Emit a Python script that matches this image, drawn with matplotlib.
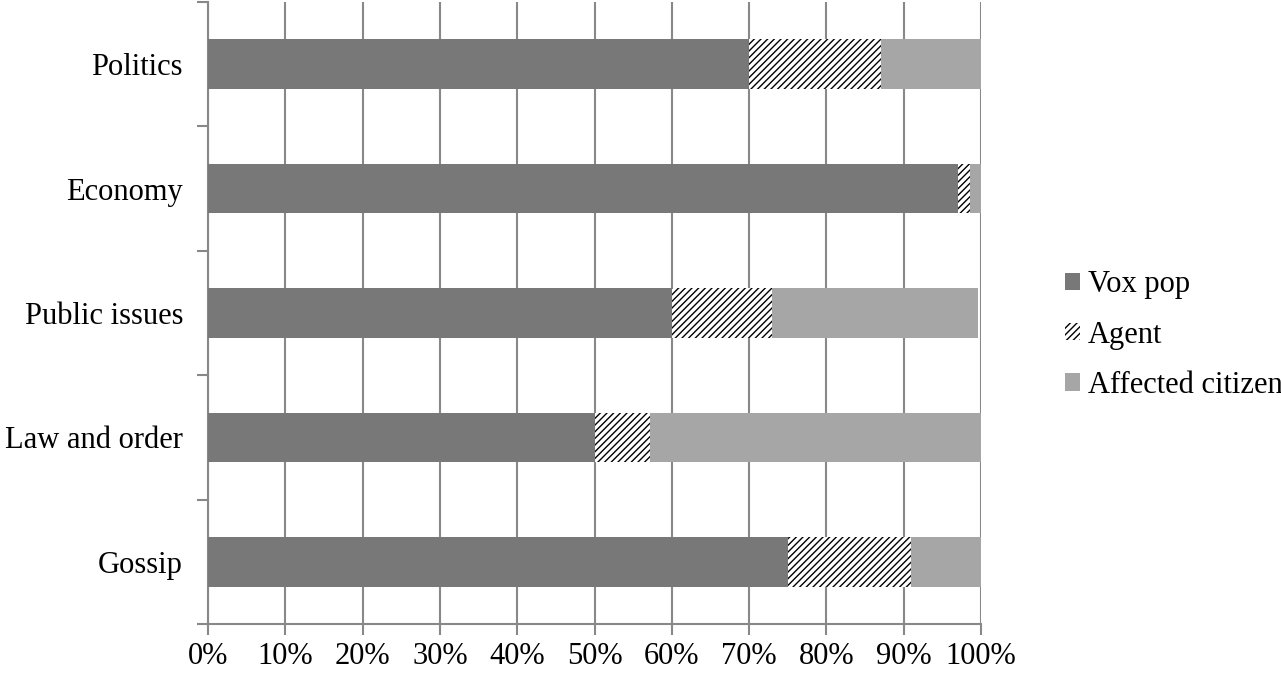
import matplotlib.pyplot as plt
import numpy as np

categories = ['Politics', 'Economy', 'Public issues', 'Law and order', 'Gossip']
vox_pop = [70, 97, 60, 50, 75]
agent = [17, 1.6, 13, 7.2, 16]
affected = [13, 1.4, 26.6, 42.8, 9]
series_names = ['Vox pop', 'Agent', 'Affected citizen']
x_ticks = np.arange(0, 101, 10)

plt.rcParams['font.family'] = ['Liberation Serif', 'DejaVu Serif']
plt.rcParams['hatch.linewidth'] = 1.0
plt.rcParams['hatch.color'] = 'black'

fig = plt.figure(figsize=(12.81, 6.73), dpi=100)
ax = fig.add_axes([208 / 1281, 49 / 673, 773 / 1281, 622 / 673])

# categories from top to bottom
y = np.arange(len(categories))[::-1]

left = np.zeros(len(categories))
b1 = ax.barh(y, vox_pop, height=0.4, left=left, color='#787878', label=series_names[0], zorder=3)
left += vox_pop
b2 = ax.barh(y, agent, height=0.4, left=left, color='white', edgecolor='black', linewidth=0,
             hatch='/////', label=series_names[1], zorder=3)
left += agent
b3 = ax.barh(y, affected, height=0.4, left=left, color='#a6a6a6', label=series_names[2], zorder=3)

ax.set_xlim(0, 100)
ax.set_ylim(-0.5, len(categories) - 0.5)

ax.set_xticks(x_ticks)
ax.set_xticklabels([f'{v}%' for v in x_ticks], fontsize=22)
ax.set_yticks(y)
ax.set_yticklabels(categories, fontsize=22)
ax.set_yticks(np.arange(-0.5, len(categories)), minor=True)

ax.tick_params(axis='y', which='major', length=0, pad=18)
ax.tick_params(axis='y', which='minor', length=8, width=1.5, color='#888888')
ax.tick_params(axis='x', which='major', length=8, width=1.5, color='#888888', pad=5)

ax.grid(axis='x', color='#888888', linewidth=1.5, zorder=0)
ax.set_axisbelow(True)

for side in ['top', 'right']:
    ax.spines[side].set_visible(False)
for side in ['left', 'bottom']:
    ax.spines[side].set_color('#888888')
    ax.spines[side].set_linewidth(1.5)

leg = fig.legend(handles=[b1, b2, b3], loc='center left', bbox_to_anchor=(1065 / 1281, 1 - 335 / 673),
                 frameon=False, fontsize=22, handlelength=0.5, handleheight=0.5,
                 handletextpad=0.25, labelspacing=0.7, borderpad=0, borderaxespad=0)

fig.savefig('out.png', dpi=100)
